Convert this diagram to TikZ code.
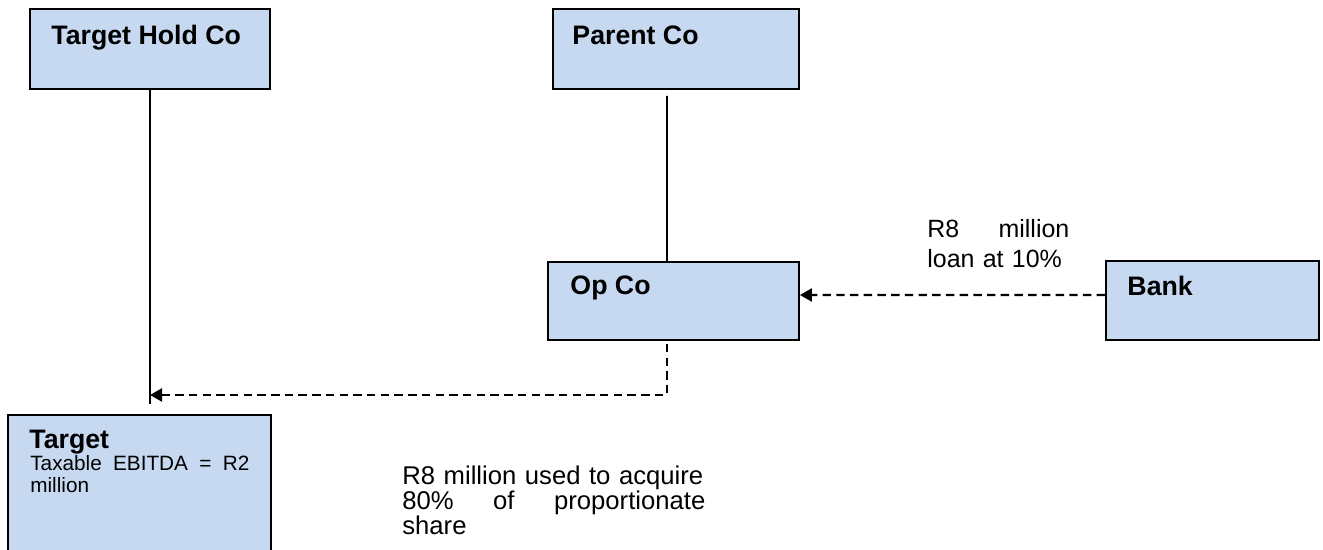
\documentclass[tikz,border=0pt]{standalone}
\usepackage{fontspec}
\setmainfont{Liberation Sans}
\usepackage{tikz}
\usetikzlibrary{positioning,arrows.meta}
\definecolor{boxblue}{RGB}{198,217,240}

\tikzset{
  co/.style={draw=black, line width=1pt, fill=boxblue, inner sep=0pt},
  coname/.style={anchor=base west, inner sep=0pt, font=\fontsize{15.2}{17}\selectfont\bfseries},
  note/.style={anchor=north west, inner sep=0pt, align=left, font=\fontsize{14.6}{14}\selectfont},
  flow/.style={line width=1.2pt, dash pattern=on 4.8pt off 3pt, -{Triangle[length=0.24cm,width=0.26cm]}},
}

\begin{document}
\begin{tikzpicture}
  \clip (0,0) rectangle (26.46,-11);
  % companies
  \node[co, minimum width=4.8cm, minimum height=1.6cm] (thc) at (3.0,-0.98) {};
  \node[co, minimum width=4.92cm, minimum height=1.6cm] (parent) at (13.52,-0.98) {};
  \node[co, minimum width=5.02cm, minimum height=1.56cm] (opco) at (13.47,-6.02) {};
  \node[co, minimum width=4.26cm, minimum height=1.58cm] (bank) at (24.25,-6.01) {};
  \node[co, minimum width=5.26cm, minimum height=3.4cm] (target) at (2.79,-10.0) {};
  \node[below right=0.72cm and 0.44cm of thc.north west, coname] (thcname) {Target Hold Co};
  \node[below right=0.72cm and 0.40cm of parent.north west, coname] (parentname) {Parent Co};
  \node[below right=0.66cm and 0.46cm of opco.north west, coname] (opconame) {Op Co};
  \node[below right=0.70cm and 0.44cm of bank.north west, coname] (bankname) {Bank};
  \node[below right=0.68cm and 0.44cm of target.north west, coname] (targetname) {Target};
  \node[note, text width=4.38cm, font=\fontsize{11.8}{12.6}\selectfont] (ebitda) at (0.6,-9.1)
    {Taxable\hfill EBITDA\hfill =\hfill R2\\million};
  % notes
  \node[note, text width=2.84cm, font=\fontsize{14.2}{17}\selectfont] (loan) at (18.54,-4.38)
    {R8\hfill million\\loan at 10\%};
  \node[note, text width=6.06cm] (use) at (8.04,-9.32)
    {\mbox{R8 million used to acquire}\\80\%\hfill of\hfill proportionate\\share};
  % ownership lines
  \coordinate (stake) at (3.0,-7.9);
  \coordinate (holdend) at (3.0,-8.08);
  \draw[line width=0.9pt] (thc.south) -- (holdend);
  \draw[line width=0.9pt] ([xshift=-0.18cm,yshift=-0.12cm]parent.south) -- ([xshift=-0.13cm]opco.north);
  % funding
  \draw[flow] ([yshift=0.11cm]bank.west) -- ([yshift=0.12cm]opco.east);
  \draw[flow] ([xshift=-0.13cm,yshift=-0.06cm]opco.south) |- (stake);
\end{tikzpicture}
\end{document}
